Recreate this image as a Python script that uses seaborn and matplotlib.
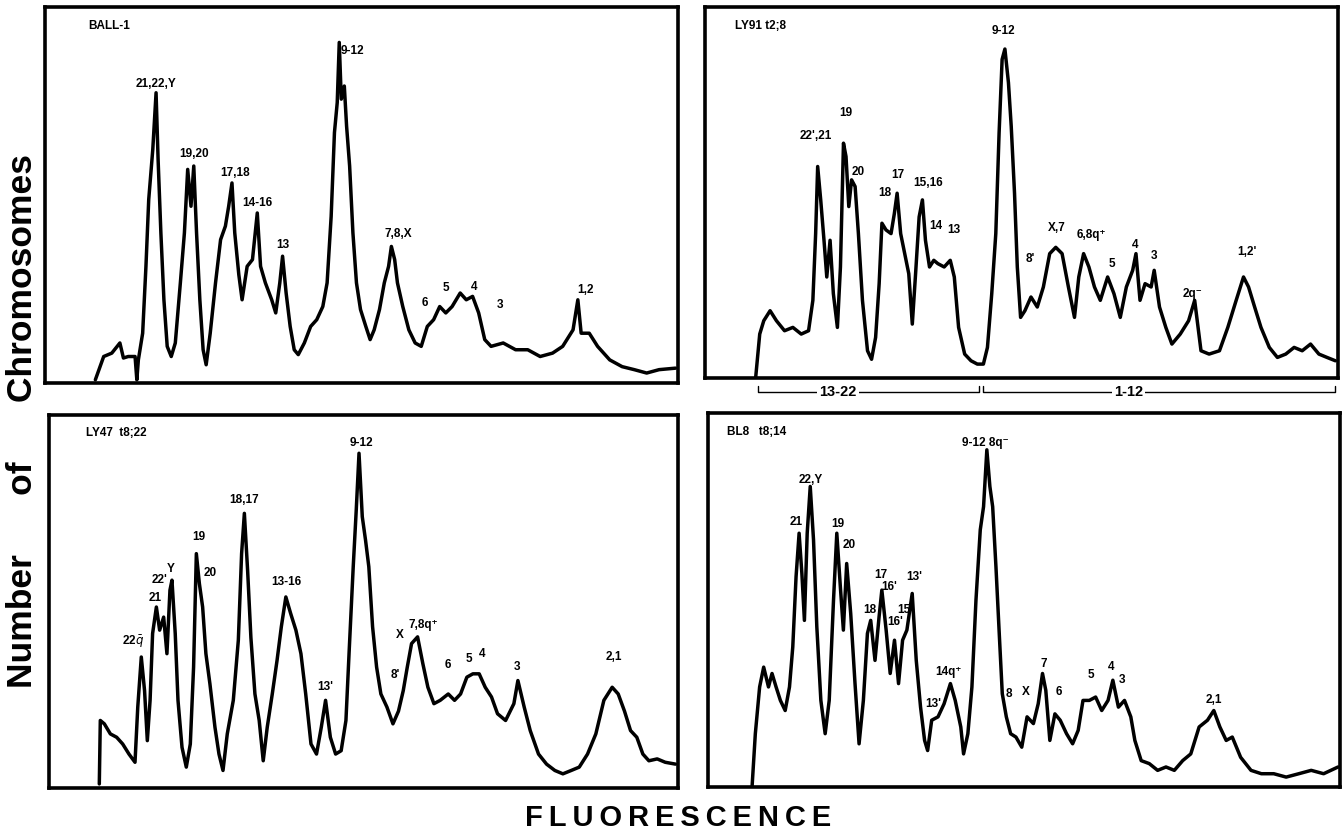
import matplotlib
matplotlib.use("Agg")
import matplotlib.pyplot as plt
import seaborn as sns
import pandas as pd

# flow karyotype histograms: fluorescence channel (0-250) vs relative count (0-100)
ball1_channel = [19.9, 23.2, 26.4, 29.6, 31.0, 32.9, 35.6, 36.3, 36.9, 38.6,
                 39.9, 41.0, 42.6, 43.9, 44.7, 45.8, 47.0, 48.3, 49.9, 51.5,
                 53.5, 55.1, 56.4, 57.7, 58.8, 59.9, 61.2, 62.5, 63.7, 65.3,
                 67.4, 69.4, 71.3, 72.6, 73.9, 75.0, 76.6, 77.9, 79.9, 82.0,
                 83.9, 85.2, 87.1, 89.6, 91.2, 92.8, 93.9, 95.3, 96.9, 98.5,
                 100.1, 102.5, 105.0, 107.4, 109.8, 111.5, 113.1, 114.4, 115.5, 116.3,
                 117.1, 118.3, 119.2, 120.4, 121.7, 123.1, 124.7, 126.8, 128.5, 130.1,
                 132.2, 134.1, 135.8, 136.9, 138.2, 139.3, 141.4, 143.8, 146.3, 148.7,
                 151.1, 153.6, 156.0, 158.4, 160.9, 164.1, 166.5, 169.0, 171.4, 173.8,
                 176.3, 181.1, 186.0, 190.8, 195.7, 200.6, 204.6, 208.7, 210.6, 211.9,
                 215.1, 218.4, 223.2, 228.1, 232.9, 237.8, 242.7, 249.2]
ball1_count = [0.9, 7.1, 8.0, 10.7, 6.7, 7.1, 7.1, 0.9, 6.2, 13.3,
               31.1, 48.9, 62.2, 77.3, 59.6, 40.0, 22.2, 9.8, 7.1, 10.7,
               26.7, 40.0, 56.9, 47.1, 57.8, 40.0, 22.2, 8.9, 4.9, 13.3,
               26.7, 38.2, 41.8, 47.1, 53.3, 40.0, 28.9, 22.2, 31.1, 32.9,
               45.3, 31.1, 26.7, 22.2, 18.7, 26.7, 33.8, 24.0, 15.1, 8.9,
               7.6, 10.7, 15.1, 16.9, 20.4, 26.7, 44.4, 66.7, 74.7, 90.7,
               75.6, 79.1, 68.4, 57.8, 40.0, 26.7, 19.6, 15.1, 11.6, 14.2,
               19.6, 26.7, 31.1, 36.4, 32.9, 26.7, 20.4, 14.2, 10.7, 9.8,
               15.1, 16.9, 20.4, 18.7, 20.4, 24.0, 22.2, 23.1, 18.7, 11.6,
               9.8, 10.7, 8.9, 8.9, 7.1, 8.0, 9.8, 14.2, 22.2, 13.3,
               13.3, 9.8, 6.2, 4.4, 3.6, 2.7, 3.6, 4.0]

ly91_channel = [20.0, 21.6, 23.2, 25.7, 28.2, 31.4, 34.7, 38.0, 40.9, 42.6,
                43.7, 44.5, 45.7, 47.0, 48.1, 49.4, 50.7, 52.3, 53.5, 54.7,
                55.7, 56.8, 57.9, 59.3, 60.6, 62.2, 64.2, 65.8, 67.4, 68.8,
                69.9, 71.5, 73.5, 74.8, 75.9, 77.3, 78.9, 80.5, 81.9, 83.2,
                84.6, 85.9, 87.1, 88.7, 90.4, 92.0, 94.5, 96.9, 98.5, 100.2,
                102.6, 105.1, 107.6, 110.0, 111.6, 113.3, 114.9, 116.2, 117.4, 118.5,
                119.9, 121.0, 122.3, 123.4, 124.7, 126.4, 128.8, 131.3, 133.7, 136.2,
                138.6, 141.1, 143.6, 146.0, 147.7, 149.6, 151.7, 153.9, 156.2, 159.1,
                161.6, 164.1, 166.5, 169.0, 170.3, 171.9, 173.9, 176.3, 177.5, 179.6,
                182.1, 184.5, 187.8, 191.1, 193.5, 196.0, 199.2, 203.3, 206.6, 209.9,
                212.8, 214.8, 217.2, 219.7, 223.0, 226.2, 229.5, 232.8, 236.0, 239.3,
                242.6, 245.8, 249.1]
ly91_count = [0.2, 11.9, 15.5, 18.2, 15.5, 12.8, 13.7, 11.9, 12.8, 21.0,
              39.0, 57.1, 48.1, 37.2, 27.3, 37.2, 22.8, 13.7, 30.0, 63.4,
              59.8, 46.3, 53.5, 51.7, 39.0, 21.0, 7.4, 5.1, 11.0, 25.5,
              41.8, 40.0, 39.0, 44.4, 49.9, 39.0, 33.6, 28.2, 14.6, 28.2,
              43.5, 48.1, 37.2, 30.0, 31.8, 30.9, 30.0, 31.8, 27.3, 13.7,
              6.5, 4.7, 3.8, 3.8, 8.3, 22.8, 39.0, 66.1, 86.0, 88.8,
              79.7, 67.9, 49.9, 30.0, 16.4, 18.2, 21.9, 19.2, 24.6, 33.6,
              35.3, 33.6, 24.6, 16.4, 27.3, 33.6, 30.0, 24.6, 21.0, 27.3,
              22.8, 16.4, 24.6, 29.1, 33.6, 21.0, 25.5, 24.6, 29.1, 19.2,
              13.7, 9.2, 11.9, 15.5, 21.0, 7.4, 6.5, 7.4, 13.7, 21.0,
              27.3, 24.6, 19.2, 13.7, 8.3, 5.6, 6.5, 8.3, 7.4, 9.2,
              6.5, 5.6, 4.7]

ly47_channel = [20.0, 20.4, 22.0, 24.4, 26.9, 29.3, 31.8, 34.2, 35.3, 36.7,
                38.0, 39.1, 40.2, 41.2, 42.7, 44.0, 45.6, 46.9, 48.1, 48.9,
                50.2, 51.3, 52.9, 54.6, 56.2, 57.5, 58.6, 59.8, 61.1, 62.4,
                64.0, 66.0, 67.6, 69.2, 70.9, 73.3, 75.3, 76.6, 77.7, 79.0,
                80.3, 81.9, 83.6, 85.2, 86.8, 88.8, 90.7, 92.4, 94.2, 96.1,
                98.2, 100.2, 102.1, 104.2, 106.4, 108.3, 110.0, 111.9, 114.0, 116.2,
                118.1, 119.4, 121.0, 122.2, 123.3, 124.6, 125.9, 127.2, 128.7, 130.3,
                132.0, 134.4, 136.8, 139.0, 140.9, 142.5, 144.2, 146.6, 148.7, 150.7,
                153.1, 155.6, 158.8, 161.3, 163.7, 166.2, 168.6, 171.1, 173.5, 176.0,
                178.4, 181.6, 184.9, 186.5, 189.0, 191.4, 194.7, 197.9, 201.2, 204.4,
                207.7, 210.9, 214.2, 217.5, 220.7, 224.0, 226.4, 228.9, 231.3, 233.8,
                236.2, 238.6, 241.9, 245.1, 249.2]
ly47_count = [1.1, 18.1, 17.2, 14.5, 13.6, 11.8, 9.1, 6.9, 21.7, 35.1,
              26.1, 12.7, 23.5, 41.4, 48.5, 42.3, 45.8, 36.0, 53.0, 55.7,
              41.4, 23.5, 10.9, 5.6, 11.8, 32.4, 62.8, 54.8, 48.5, 36.0,
              27.9, 16.3, 9.1, 4.7, 14.5, 23.5, 39.6, 62.8, 73.6, 58.2,
              40.3, 25.2, 18.1, 7.3, 16.3, 25.2, 34.2, 43.2, 51.2, 46.8,
              42.3, 36.0, 25.2, 11.8, 9.1, 16.3, 23.5, 13.6, 9.1, 10.0,
              18.1, 36.9, 59.3, 74.5, 89.7, 72.7, 66.4, 59.3, 43.2, 32.4,
              25.2, 21.7, 17.2, 20.6, 26.1, 32.4, 38.7, 40.5, 33.3, 27.0,
              22.6, 23.5, 25.2, 23.5, 25.2, 29.7, 30.6, 30.6, 27.0, 24.4,
              19.9, 18.1, 22.6, 28.8, 21.7, 15.4, 9.1, 6.4, 4.7, 3.8,
              4.7, 5.6, 9.1, 14.5, 23.5, 27.0, 25.2, 20.6, 15.4, 13.6,
              9.1, 7.3, 7.8, 6.9, 6.4]

bl8_channel = [17.5, 18.8, 20.5, 22.1, 24.0, 25.4, 27.0, 28.7, 30.6, 32.3,
               33.6, 34.9, 36.1, 37.2, 38.2, 39.3, 40.5, 41.8, 43.1, 44.7,
               46.4, 48.0, 49.7, 51.0, 52.4, 53.6, 54.9, 56.5, 58.2, 59.8,
               61.5, 63.1, 64.4, 66.1, 67.7, 68.8, 70.5, 72.1, 73.8, 75.4,
               77.0, 78.7, 80.8, 82.4, 84.1, 85.7, 86.9, 88.5, 91.0, 93.4,
               95.9, 97.8, 100.0, 101.1, 102.8, 104.4, 106.0, 107.7, 109.0, 110.3,
               111.5, 112.6, 113.9, 115.2, 116.4, 118.0, 119.7, 121.8, 124.1, 126.2,
               128.7, 130.6, 132.3, 133.6, 135.2, 137.2, 139.3, 141.8, 144.2, 146.4,
               148.3, 150.8, 153.3, 155.7, 158.2, 160.1, 162.3, 164.7, 167.2, 168.8,
               171.3, 174.5, 177.8, 181.1, 184.4, 187.7, 190.9, 194.2, 197.5, 200.0,
               202.4, 204.9, 207.3, 210.6, 214.7, 218.8, 223.7, 228.6, 233.6, 238.5,
               243.4, 249.1]
bl8_count = [0.0, 14.3, 26.8, 32.1, 26.8, 30.4, 26.8, 23.2, 20.5, 26.8,
             37.5, 56.3, 67.9, 57.1, 44.6, 67.9, 80.4, 66.1, 42.9, 23.2,
             14.3, 23.2, 50.0, 67.9, 53.6, 42.0, 59.8, 46.4, 27.7, 11.6,
             23.2, 41.1, 44.6, 33.9, 45.5, 52.7, 42.0, 30.4, 39.3, 27.7,
             39.3, 42.0, 51.8, 33.9, 21.4, 12.5, 9.8, 17.9, 18.8, 22.3,
             27.7, 23.2, 16.1, 8.9, 14.3, 26.8, 50.0, 68.8, 75.0, 90.2,
             80.4, 75.0, 58.9, 41.1, 25.0, 18.8, 14.3, 13.4, 10.7, 18.8,
             17.0, 22.3, 30.4, 25.9, 12.5, 19.6, 17.9, 14.3, 11.6, 15.2,
             23.2, 23.2, 24.1, 20.5, 23.2, 28.6, 21.4, 23.2, 18.8, 12.5,
             7.1, 6.3, 4.5, 5.4, 4.5, 7.1, 8.9, 16.1, 17.9, 20.5,
             16.1, 12.5, 13.4, 8.0, 4.5, 3.6, 3.6, 2.7, 3.6, 4.5,
             3.6, 5.4]

panel_titles = ["BALL-1", "LY91 t2;8", "LY47  t8;22", "BL8   t8;14"]

# peak labels: (text, channel, height)
ball1_labels = [("21,22,Y", 43.9, 79.6), ("19,20", 58.8, 60.9), ("17,18", 75.0, 56.0),
                ("14-16", 83.9, 48.0), ("13", 94.0, 36.9), ("9-12", 121.5, 88.4),
                ("7,8,X", 139.8, 39.6), ("6", 150.3, 21.3), ("5", 158.4, 25.3),
                ("4", 169.5, 25.6), ("3", 180.0, 20.9), ("1,2", 213.8, 24.9)]
ly91_labels = [("9-12", 117.9, 93.7), ("22',21", 43.7, 65.2), ("19", 55.5, 71.5),
               ("20", 60.6, 55.5), ("18", 71.0, 50.0), ("17", 76.1, 54.8),
               ("15,16", 88.2, 52.6), ("14", 91.2, 41.0), ("13", 98.2, 39.9),
               ("8'", 128.5, 32.2), ("X,7", 139.1, 40.6), ("6,8q\u207a", 152.6, 38.6),
               ("5", 160.8, 30.9), ("4", 169.8, 35.9), ("3", 177.5, 32.9),
               ("2q\u207b", 192.7, 22.8), ("1,2'", 214.0, 34.1)]
ly47_labels = [("22$\\bar{q}$", 33.4, 39.1), ("21", 42.4, 51.0), ("22'", 44.0, 55.7),
               ("Y", 48.4, 58.8), ("19", 59.5, 67.3), ("20", 64.3, 57.5),
               ("18,17", 77.4, 77.2), ("13-16", 94.5, 55.2), ("13'", 110.0, 27.0),
               ("9-12", 124.1, 92.4), ("8'", 137.6, 30.2), ("X", 139.6, 40.9),
               ("7,8q\u207a", 149.0, 43.6), ("6", 158.8, 32.9), ("5", 167.0, 34.6),
               ("4", 172.2, 36.0), ("3", 186.2, 32.4), ("2,1", 224.8, 35.1)]
bl8_labels = [("9-12 8q\u207b", 109.8, 92.0), ("22,Y", 40.6, 82.1), ("21", 34.9, 71.0),
              ("19", 51.3, 70.5), ("20", 55.7, 64.7), ("18", 63.9, 47.3),
              ("17", 68.5, 56.7), ("16'", 71.6, 53.6), ("16'", 74.1, 44.2),
              ("15'", 78.2, 47.3), ("13'", 81.6, 56.3), ("13'", 89.0, 22.3),
              ("14q\u207a", 95.1, 30.8), ("8", 119.2, 25.0), ("X", 125.9, 25.4),
              ("7", 132.8, 33.0), ("6", 138.8, 25.4), ("5", 151.6, 29.9),
              ("4", 159.5, 32.1), ("3", 163.9, 28.6), ("2,1", 200.0, 23.2)]

# chromosome groups bracketed under the LY91 panel: (text, start, end)
ly91_groups = [("13-22", 20.8, 108.4), ("1-12", 110.0, 249.0)]

sns.set_style("white")
plt.rcParams["font.family"] = ["Liberation Sans", "DejaVu Sans"]
plt.rcParams["text.color"] = "black"

fig = plt.figure(figsize=(13.43, 8.33), dpi=100)
rects = [[0.0335, 0.540, 0.471, 0.451],
         [0.525, 0.546, 0.471, 0.445],
         [0.0365, 0.054, 0.468, 0.448],
         [0.527, 0.055, 0.471, 0.449]]
traces = [(ball1_channel, ball1_count), (ly91_channel, ly91_count),
          (ly47_channel, ly47_count), (bl8_channel, bl8_count)]
labels = [ball1_labels, ly91_labels, ly47_labels, bl8_labels]
title_x = [0.068, 0.047, 0.059, 0.03]

axes = []
for rect, (ch, cnt), labs, title, tx in zip(rects, traces, labels, panel_titles, title_x):
    ax = fig.add_axes(rect)
    df = pd.DataFrame({"channel": ch, "count": cnt})
    sns.lineplot(data=df, x="channel", y="count", ax=ax, color="black",
                 linewidth=2.5, estimator=None)
    ax.set_xlim(0, 250)
    ax.set_ylim(0, 100)
    ax.set_xticks([])
    ax.set_yticks([])
    ax.set_xlabel("")
    ax.set_ylabel("")
    for s in ax.spines.values():
        s.set_linewidth(2.6)
        s.set_color("black")
    ax.text(tx, 0.95, title, transform=ax.transAxes, fontsize=8.5,
            fontweight="bold", ha="left", va="center")
    for txt, x, y in labs:
        ax.text(x, y, txt, fontsize=8.5, fontweight="bold", ha="center", va="center")
    axes.append(ax)

# group brackets below the LY91 panel
ax = axes[1]
for txt, x0, x1 in ly91_groups:
    ax.plot([x0, x0, x1, x1], [-2.2, -3.6, -3.6, -2.2], color="black",
            linewidth=1.0, clip_on=False)
    ax.text((x0 + x1) / 2 - 12, -3.6, txt, fontsize=10.5, fontweight="bold",
            ha="center", va="center", clip_on=False,
            bbox=dict(facecolor="white", edgecolor="none", pad=1.5))

fig.text(0.0165, 0.495, "Number      of      Chromosomes",
         rotation=90, fontsize=25.5, fontweight="bold", ha="center", va="center")
fig.text(0.505, 0.018, "\u2009".join("FLUORESCENCE"), fontsize=21,
         fontweight="bold", ha="center", va="center")

fig.savefig("out.png", dpi=100)
